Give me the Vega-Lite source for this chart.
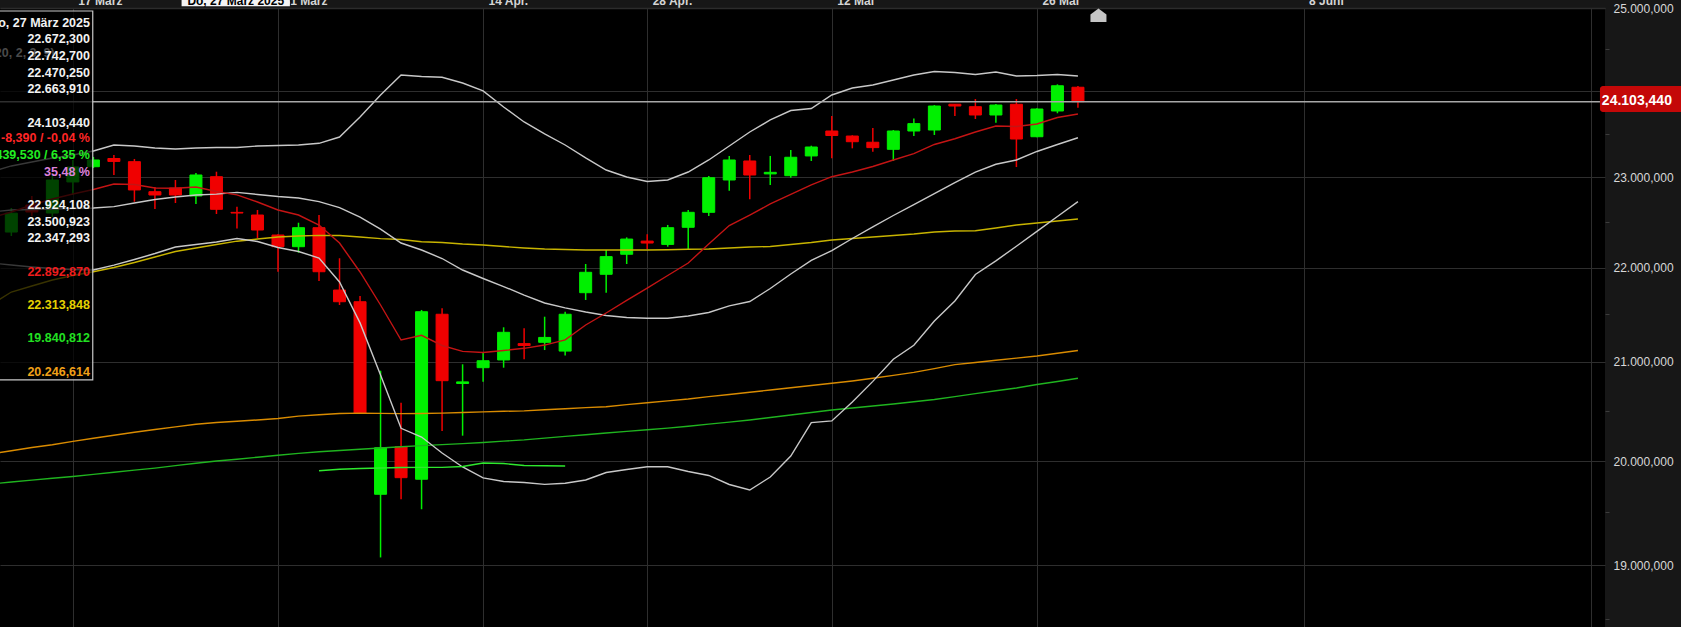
{
  "$schema": "https://vega.github.io/schema/vega-lite/v6.json",
  "width": 1605,
  "height": 619,
  "autosize": {"type": "none"},
  "padding": {"left": 0, "top": 8, "right": 76, "bottom": 0},
  "background": "#171717",
  "config": {
    "view": {"fill": "#000000", "stroke": null},
    "font": "Liberation Sans",
    "locale": {"number": {"decimal": ",", "thousands": ".", "grouping": [3], "currency": ["", " €"]}},
    "axisX": {
      "orient": "top",
      "grid": true, "gridColor": "#2e2e2e", "gridWidth": 1,
      "ticks": false, "domain": true, "domainColor": "#2c2c2c", "domainWidth": 1.5,
      "labelAlign": "left", "labelBaseline": "alphabetic", "labelPadding": 4, "labelOffset": 5,
      "labelColor": "#d4d4d4", "labelFontSize": 12, "labelFontWeight": "bold", "labelFont": "Liberation Sans",
      "labelFlush": false, "labelOverlap": false, "labelBound": false
    }
  },
  "datasets": {
    "d": [
      {"i":-4,"u":23184,"m":22677,"lw":22046,"r":22602,"ye":21540,"or":19836,"gr":19510},
      {"i":-3,"o":22427,"h":22727,"l":22378,"c":22662,"u":23262,"m":22702,"lw":22022,"r":22677,"ye":21695,"or":19872,"gr":19531},
      {"i":-2,"o":22765,"h":22879,"l":22627,"c":22677,"u":23313,"m":22708,"lw":21998,"r":22765,"ye":21767,"or":19907,"gr":19551},
      {"i":-1,"o":22664,"h":23146,"l":22614,"c":23082,"u":23365,"m":22715,"lw":21979,"r":22841,"ye":21840,"or":19937,"gr":19571},
      {"i":0,"o":23057,"h":23339,"l":22892,"c":23249,"u":23403,"m":22721,"lw":21967,"r":22904,"ye":21894,"or":19975,"gr":19591},
      {"i":1,"o":23252,"h":23378,"l":23236,"c":23339,"u":23455,"m":22727,"lw":21961,"r":22961,"ye":21940,"or":20009,"gr":19614},
      {"i":2,"o":23358,"h":23403,"l":23146,"c":23320,"u":23533,"m":22744,"lw":22020,"r":23031,"ye":21991,"or":20043,"gr":19637},
      {"i":3,"o":23317,"h":23352,"l":22806,"c":22955,"u":23520,"m":22790,"lw":22089,"r":23025,"ye":22052,"or":20076,"gr":19660},
      {"i":4,"o":22933,"h":22993,"l":22715,"c":22891,"u":23494,"m":22834,"lw":22162,"r":22980,"ye":22120,"or":20107,"gr":19682},
      {"i":5,"o":22980,"h":23082,"l":22790,"c":22891,"u":23481,"m":22866,"lw":22242,"r":22977,"ye":22187,"or":20136,"gr":19709},
      {"i":6,"o":22879,"h":23172,"l":22777,"c":23146,"u":23494,"m":22891,"lw":22273,"r":22993,"ye":22230,"or":20165,"gr":19735},
      {"i":7,"o":23124,"h":23188,"l":22652,"c":22711,"u":23500,"m":22902,"lw":22303,"r":22936,"ye":22273,"or":20185,"gr":19760},
      {"i":8,"o":22672.3,"h":22742.7,"l":22470.25,"c":22663.91,"u":23500.923,"m":22924.108,"lw":22347.293,"r":22892.87,"ye":22313.848,"or":20198,"gr":19779},
      {"i":9,"o":22639,"h":22702,"l":22353,"c":22452,"u":23520,"m":22898,"lw":22310,"r":22803,"ye":22340,"or":20213,"gr":19801},
      {"i":10,"o":22390,"h":22400,"l":21940,"c":22246,"u":23526,"m":22872,"lw":22236,"r":22702,"ye":22365,"or":20230,"gr":19822},
      {"i":11,"o":22246,"h":22543,"l":22172,"c":22481,"u":23533,"m":22853,"lw":22187,"r":22639,"ye":22377,"or":20256,"gr":19843},
      {"i":12,"o":22481,"h":22639,"l":21828,"c":21940,"u":23555,"m":22807,"lw":22107,"r":22514,"ye":22386,"or":20271,"gr":19861,"sg":19653},
      {"i":13,"o":21719,"h":22104,"l":21540,"c":21579,"u":23637,"m":22733,"lw":21816,"r":22291,"ye":22384,"or":20286,"gr":19875,"sg":19670},
      {"i":14,"o":21579,"h":21647,"l":20280,"c":20288,"u":23900,"m":22614,"lw":21328,"r":21937,"ye":22365,"or":20290,"gr":19888,"sg":19677},
      {"i":15,"o":19399,"h":20771,"l":18733,"c":19905,"u":24193,"m":22464,"lw":20722,"r":21540,"ye":22346,"or":20287,"gr":19902,"sg":19683},
      {"i":16,"o":19916,"h":20407,"l":19346,"c":19578,"u":24462,"m":22291,"lw":20120,"r":21127,"ye":22334,"or":20284,"gr":19915,"sg":19688},
      {"i":17,"o":19561,"h":21481,"l":19239,"c":21460,"u":24442,"m":22205,"lw":20023,"r":21182,"ye":22307,"or":20286,"gr":19928,"sg":19690},
      {"i":18,"o":21430,"h":21501,"l":20090,"c":20657,"u":24431,"m":22101,"lw":19847,"r":21063,"ye":22297,"or":20290,"gr":19939,"sg":19690},
      {"i":19,"o":20625,"h":20845,"l":20038,"c":20643,"u":24354,"m":21961,"lw":19694,"r":20995,"ye":22279,"or":20297,"gr":19950,"sg":19699},
      {"i":20,"o":20806,"h":20979,"l":20646,"c":20886,"u":24247,"m":21858,"lw":19575,"r":20981,"ye":22267,"or":20304,"gr":19963,"sg":19737},
      {"i":21,"o":20895,"h":21276,"l":20806,"c":21217,"u":24033,"m":21761,"lw":19537,"r":21004,"ye":22248,"or":20310,"gr":19978,"sg":19732},
      {"i":22,"o":21085,"h":21264,"l":20903,"c":21063,"u":23835,"m":21659,"lw":19526,"r":21030,"ye":22230,"or":20315,"gr":19991,"sg":19710},
      {"i":23,"o":21100,"h":21401,"l":21010,"c":21157,"u":23677,"m":21564,"lw":19506,"r":21068,"ye":22217,"or":20327,"gr":20011,"sg":19707},
      {"i":24,"o":20998,"h":21461,"l":20946,"c":21430,"u":23533,"m":21505,"lw":19517,"r":21129,"ye":22211,"or":20339,"gr":20030,"sg":19704},
      {"i":25,"o":21687,"h":22034,"l":21600,"c":21933,"u":23365,"m":21457,"lw":19553,"r":21303,"ye":22205,"or":20351,"gr":20048},
      {"i":26,"o":21909,"h":22205,"l":21687,"c":22124,"u":23210,"m":21415,"lw":19634,"r":21445,"ye":22205,"or":20362,"gr":20067},
      {"i":27,"o":22153,"h":22361,"l":22034,"c":22340,"u":23120,"m":21392,"lw":19667,"r":21594,"ye":22205,"or":20385,"gr":20086},
      {"i":28,"o":22315,"h":22399,"l":22217,"c":22291,"u":23063,"m":21382,"lw":19697,"r":21743,"ye":22205,"or":20406,"gr":20104},
      {"i":29,"o":22274,"h":22515,"l":22246,"c":22481,"u":23082,"m":21382,"lw":19697,"r":21894,"ye":22209,"or":20428,"gr":20122},
      {"i":30,"o":22486,"h":22702,"l":22205,"c":22673,"u":23184,"m":21410,"lw":19645,"r":22046,"ye":22214,"or":20448,"gr":20142},
      {"i":31,"o":22673,"h":23133,"l":22627,"c":23111,"u":23339,"m":21451,"lw":19602,"r":22279,"ye":22217,"or":20475,"gr":20166},
      {"i":32,"o":23082,"h":23391,"l":22946,"c":23339,"u":23520,"m":21529,"lw":19504,"r":22508,"ye":22230,"or":20500,"gr":20189},
      {"i":33,"o":23326,"h":23403,"l":22837,"c":23146,"u":23703,"m":21582,"lw":19445,"r":22639,"ye":22242,"or":20525,"gr":20212},
      {"i":34,"o":23160,"h":23391,"l":23018,"c":23180,"u":23861,"m":21737,"lw":19585,"r":22778,"ye":22248,"or":20551,"gr":20240},
      {"i":35,"o":23137,"h":23468,"l":23111,"c":23374,"u":23986,"m":21912,"lw":19814,"r":22898,"ye":22273,"or":20576,"gr":20268},
      {"i":36,"o":23391,"h":23524,"l":23326,"c":23507,"u":24013,"m":22077,"lw":20184,"r":23019,"ye":22297,"or":20602,"gr":20296},
      {"i":37,"o":23716,"h":23914,"l":23361,"c":23657,"u":24193,"m":22199,"lw":20202,"r":23124,"ye":22328,"or":20627,"gr":20324},
      {"i":38,"o":23650,"h":23660,"l":23490,"c":23576,"u":24287,"m":22347,"lw":20415,"r":23184,"ye":22347,"or":20654,"gr":20347},
      {"i":39,"o":23569,"h":23755,"l":23446,"c":23499,"u":24327,"m":22492,"lw":20649,"r":23255,"ye":22365,"or":20685,"gr":20370},
      {"i":40,"o":23477,"h":23729,"l":23326,"c":23716,"u":24394,"m":22633,"lw":20903,"r":23339,"ye":22384,"or":20717,"gr":20393},
      {"i":41,"o":23716,"h":23879,"l":23650,"c":23813,"u":24462,"m":22771,"lw":21065,"r":23422,"ye":22402,"or":20752,"gr":20417},
      {"i":42,"o":23729,"h":24059,"l":23664,"c":24046,"u":24509,"m":22908,"lw":21350,"r":23540,"ye":22427,"or":20795,"gr":20443},
      {"i":43,"o":24070,"h":24073,"l":23914,"c":24046,"u":24496,"m":23048,"lw":21588,"r":23615,"ye":22440,"or":20841,"gr":20475},
      {"i":44,"o":24037,"h":24139,"l":23874,"c":23927,"u":24469,"m":23184,"lw":21906,"r":23703,"ye":22443,"or":20866,"gr":20509},
      {"i":45,"o":23927,"h":24073,"l":23826,"c":24059,"u":24503,"m":23284,"lw":22073,"r":23782,"ye":22477,"or":20892,"gr":20542},
      {"i":46,"o":24069,"h":24139,"l":23248,"c":23611,"u":24448,"m":23339,"lw":22251,"r":23776,"ye":22514,"or":20916,"gr":20574},
      {"i":47,"o":23641,"h":24015,"l":23633,"c":24006,"u":24455,"m":23449,"lw":22435,"r":23808,"ye":22539,"or":20941,"gr":20613},
      {"i":48,"o":23980,"h":24336,"l":23950,"c":24317,"u":24469,"m":23540,"lw":22621,"r":23894,"ye":22564,"or":20973,"gr":20648},
      {"i":49,"o":24297,"h":24314,"l":24024,"c":24103.44,"u":24448,"m":23628,"lw":22807,"r":23940,"ye":22589,"or":21004,"gr":20684}
    ],
    "ptxt": [
      {"t":"Do, 27 März 2025","k":"w","i":0.833,"ty":25180},
      {"t":"22.672,300","k":"w","i":0.833,"ty":24950},
      {"t":"(20, 2, 3, 9)","k":"gry","i":-0.89,"ty":24766},
      {"t":"22.742,700","k":"w","i":0.833,"ty":24720.5},
      {"t":"22.470,250","k":"w","i":0.833,"ty":24493},
      {"t":"22.663,910","k":"w","i":0.833,"ty":24269},
      {"t":"24.103,440","k":"w","i":0.833,"ty":23825},
      {"t":"-8,390 / -0,04 %","k":"dn","i":0.833,"ty":23620},
      {"t":"1.439,530 / 6,35 %","k":"up","i":0.833,"ty":23403},
      {"t":"35,48 %","k":"pct","i":0.833,"ty":23188},
      {"t":"22.924,108","k":"w","i":0.833,"ty":22765},
      {"t":"23.500,923","k":"w","i":0.833,"ty":22556},
      {"t":"22.347,293","k":"w","i":0.833,"ty":22349.5},
      {"t":"22.892,870","k":"ma","i":0.833,"ty":21940},
      {"t":"22.313,848","k":"yel","i":0.833,"ty":21540},
      {"t":"19.840,812","k":"grn","i":0.833,"ty":21147},
      {"t":"20.246,614","k":"ora","i":0.833,"ty":20760}
    ]
  },
  "resolve": {"scale": {"y": "independent"}},
  "layer": [
    {
      "layer": [
        {
          "data": {"name": "d"},
          "transform": [{"filter": "isValid(datum.o)"}],
          "mark": {"type": "rule", "strokeWidth": 1.5},
          "encoding": {
            "x": {"field": "i", "type": "quantitative", "scale": {"domain": [-3.3091, 74.452], "nice": false, "zero": false},
              "axis": {"values": [0, 10, 20, 28, 37, 47, 60, 74], "labelExpr": "datum.value == 0 ? '17 März' : datum.value == 10 ? '31 März' : datum.value == 20 ? '14 Apr.' : datum.value == 28 ? '28 Apr.' : datum.value == 37 ? '12 Mai' : datum.value == 47 ? '26 Mai' : datum.value == 60 ? '8 Juni' : ''", "title": null}},
            "y": {"field": "l", "type": "quantitative", "scale": {"type": "log", "domain": [18025.9, 25385.6], "nice": false}, "axis": null},
            "y2": {"field": "h"},
            "color": {"condition": {"test": "datum.c >= datum.o", "value": "#00f000"}, "value": "#f00000"}
          }
        },
        {
          "data": {"name": "d"},
          "transform": [{"filter": "isValid(datum.o)"}],
          "mark": {"type": "bar", "width": 12, "strokeWidth": 1},
          "encoding": {
            "x": {"field": "i", "type": "quantitative", "scale": {"domain": [-3.3091, 74.452], "nice": false, "zero": false},
              "axis": {"values": [0, 10, 20, 28, 37, 47, 60, 74], "labelExpr": "datum.value == 0 ? '17 März' : datum.value == 10 ? '31 März' : datum.value == 20 ? '14 Apr.' : datum.value == 28 ? '28 Apr.' : datum.value == 37 ? '12 Mai' : datum.value == 47 ? '26 Mai' : datum.value == 60 ? '8 Juni' : ''", "title": null}},
            "y": {"field": "o", "type": "quantitative", "scale": {"type": "log", "domain": [18025.9, 25385.6], "nice": false}, "axis": null},
            "y2": {"field": "c"},
            "color": {"condition": {"test": "datum.c >= datum.o", "value": "#00f000"}, "value": "#f00000"},
            "stroke": {"condition": {"test": "datum.c >= datum.o", "value": "#00f000"}, "value": "#f00000"}
          }
        },
        {
          "data": {"name": "d"},
          "transform": [
            {"fold": ["gr", "or", "ye", "sg", "lw", "m", "u", "r"], "as": ["s", "v"]},
            {"filter": "isValid(datum.v)"}
          ],
          "mark": {"type": "line", "interpolate": "linear"},
          "encoding": {
            "x": {"field": "i", "type": "quantitative", "scale": {"domain": [-3.3091, 74.452], "nice": false, "zero": false},
              "axis": {"values": [0, 10, 20, 28, 37, 47, 60, 74], "labelExpr": "datum.value == 0 ? '17 März' : datum.value == 10 ? '31 März' : datum.value == 20 ? '14 Apr.' : datum.value == 28 ? '28 Apr.' : datum.value == 37 ? '12 Mai' : datum.value == 47 ? '26 Mai' : datum.value == 60 ? '8 Juni' : ''", "title": null}},
            "y": {"field": "v", "type": "quantitative", "scale": {"type": "log", "domain": [18025.9, 25385.6], "nice": false}, "axis": null},
            "stroke": {"field": "s", "type": "nominal",
              "scale": {"domain": ["gr", "or", "ye", "sg", "lw", "m", "u", "r"], "range": ["#1fb41f", "#d98b00", "#c8b400", "#2ee82e", "#c8c8c8", "#c8c8c8", "#c8c8c8", "#c41414"]},
              "legend": null},
            "strokeWidth": {"field": "s", "type": "nominal",
              "scale": {"domain": ["gr", "or", "ye", "sg", "lw", "m", "u", "r"], "range": [1.4, 1.4, 1.4, 2.2, 1.6, 1.6, 1.6, 1.4]},
              "legend": null},
            "order": {"field": "i"}
          }
        },
        {
          "data": {"values": [{"p": 24103.44}]},
          "mark": {"type": "rule", "color": "#a8a8a8", "strokeWidth": 1.5},
          "encoding": {
            "y": {"field": "p", "type": "quantitative", "scale": {"type": "log", "domain": [18025.9, 25385.6], "nice": false}, "axis": null}
          }
        },
        {
          "data": {"values": [{"i": -3.8, "i2": 0.969, "ya": 25343.5, "yb": 20665}]},
          "mark": {"type": "rect", "fill": "#000000", "fillOpacity": 0.72, "stroke": "#c8c8c8", "strokeWidth": 1.2},
          "encoding": {
            "x": {"field": "i", "type": "quantitative", "scale": {"domain": [-3.3091, 74.452], "nice": false, "zero": false},
              "axis": {"values": [0, 10, 20, 28, 37, 47, 60, 74], "labelExpr": "datum.value == 0 ? '17 März' : datum.value == 10 ? '31 März' : datum.value == 20 ? '14 Apr.' : datum.value == 28 ? '28 Apr.' : datum.value == 37 ? '12 Mai' : datum.value == 47 ? '26 Mai' : datum.value == 60 ? '8 Juni' : ''", "title": null}},
            "x2": {"field": "i2"},
            "y": {"field": "ya", "type": "quantitative", "scale": {"type": "log", "domain": [18025.9, 25385.6], "nice": false}, "axis": null},
            "y2": {"field": "yb"}
          }
        },
        {
          "data": {"name": "ptxt"},
          "mark": {"type": "text", "align": "right", "baseline": "middle", "fontWeight": "bold", "fontSize": 12.5, "font": "Liberation Sans"},
          "encoding": {
            "x": {"field": "i", "type": "quantitative", "scale": {"domain": [-3.3091, 74.452], "nice": false, "zero": false},
              "axis": {"values": [0, 10, 20, 28, 37, 47, 60, 74], "labelExpr": "datum.value == 0 ? '17 März' : datum.value == 10 ? '31 März' : datum.value == 20 ? '14 Apr.' : datum.value == 28 ? '28 Apr.' : datum.value == 37 ? '12 Mai' : datum.value == 47 ? '26 Mai' : datum.value == 60 ? '8 Juni' : ''", "title": null}},
            "y": {"field": "ty", "type": "quantitative", "scale": {"type": "log", "domain": [18025.9, 25385.6], "nice": false}, "axis": null},
            "text": {"field": "t"},
            "fill": {"field": "k", "type": "nominal",
              "scale": {"domain": ["w", "dn", "up", "pct", "ma", "yel", "grn", "ora", "gry"], "range": ["#f2f2f2", "#ff2626", "#22ee22", "#dc82dc", "#ee1c1c", "#e6d200", "#22e022", "#f0a018", "#4a4a4a"]},
              "legend": null}
          }
        },
        {
          "data": {"values": [{"i": 5.30, "i2": 10.58, "ya": 25565, "yb": 25409.4}]},
          "mark": {"type": "rect", "fill": "#f4f4f4"},
          "encoding": {
            "x": {"field": "i", "type": "quantitative", "scale": {"domain": [-3.3091, 74.452], "nice": false, "zero": false},
              "axis": {"values": [0, 10, 20, 28, 37, 47, 60, 74], "labelExpr": "datum.value == 0 ? '17 März' : datum.value == 10 ? '31 März' : datum.value == 20 ? '14 Apr.' : datum.value == 28 ? '28 Apr.' : datum.value == 37 ? '12 Mai' : datum.value == 47 ? '26 Mai' : datum.value == 60 ? '8 Juni' : ''", "title": null}},
            "x2": {"field": "i2"},
            "y": {"field": "ya", "type": "quantitative", "scale": {"type": "log", "domain": [18025.9, 25385.6], "nice": false}, "axis": null},
            "y2": {"field": "yb"}
          }
        },
        {
          "data": {"values": [{"t": "Do, 27 März 2025", "i": 7.94, "ya": 25434.7}]},
          "mark": {"type": "text", "align": "center", "baseline": "alphabetic", "fontWeight": "bold", "fontSize": 12, "fill": "#000000", "font": "Liberation Sans"},
          "encoding": {
            "x": {"field": "i", "type": "quantitative", "scale": {"domain": [-3.3091, 74.452], "nice": false, "zero": false},
              "axis": {"values": [0, 10, 20, 28, 37, 47, 60, 74], "labelExpr": "datum.value == 0 ? '17 März' : datum.value == 10 ? '31 März' : datum.value == 20 ? '14 Apr.' : datum.value == 28 ? '28 Apr.' : datum.value == 37 ? '12 Mai' : datum.value == 47 ? '26 Mai' : datum.value == 60 ? '8 Juni' : ''", "title": null}},
            "y": {"field": "ya", "type": "quantitative", "scale": {"type": "log", "domain": [18025.9, 25385.6], "nice": false}, "axis": null},
            "text": {"field": "t"}
          }
        },
        {
          "data": {"values": [{"i": 50, "ya": 25266.6}]},
          "mark": {"type": "point", "shape": "M -1 0.7 L -1 -0.25 L 0 -1 L 1 -0.25 L 1 0.7 Z", "filled": true, "color": "#c4c4c4", "size": 256, "opacity": 1},
          "encoding": {
            "x": {"field": "i", "type": "quantitative", "scale": {"domain": [-3.3091, 74.452], "nice": false, "zero": false},
              "axis": {"values": [0, 10, 20, 28, 37, 47, 60, 74], "labelExpr": "datum.value == 0 ? '17 März' : datum.value == 10 ? '31 März' : datum.value == 20 ? '14 Apr.' : datum.value == 28 ? '28 Apr.' : datum.value == 37 ? '12 Mai' : datum.value == 47 ? '26 Mai' : datum.value == 60 ? '8 Juni' : ''", "title": null}},
            "y": {"field": "ya", "type": "quantitative", "scale": {"type": "log", "domain": [18025.9, 25385.6], "nice": false}, "axis": null}
          }
        },
        {
          "data": {"values": [{"i": 74.45, "i2": 78.6, "ya": 24313.6, "yb": 23966.5}]},
          "mark": {"type": "rect", "fill": "#c40808", "cornerRadius": 3},
          "encoding": {
            "x": {"field": "i", "type": "quantitative", "scale": {"domain": [-3.3091, 74.452], "nice": false, "zero": false},
              "axis": {"values": [0, 10, 20, 28, 37, 47, 60, 74], "labelExpr": "datum.value == 0 ? '17 März' : datum.value == 10 ? '31 März' : datum.value == 20 ? '14 Apr.' : datum.value == 28 ? '28 Apr.' : datum.value == 37 ? '12 Mai' : datum.value == 47 ? '26 Mai' : datum.value == 60 ? '8 Juni' : ''", "title": null}},
            "x2": {"field": "i2"},
            "y": {"field": "ya", "type": "quantitative", "scale": {"type": "log", "domain": [18025.9, 25385.6], "nice": false}, "axis": null},
            "y2": {"field": "yb"}
          }
        },
        {
          "data": {"values": [{"t": "24.103,440", "i": 76.25, "ya": 24119}]},
          "mark": {"type": "text", "align": "center", "baseline": "middle", "fontWeight": "bold", "fontSize": 14, "fill": "#ffffff", "font": "Liberation Sans"},
          "encoding": {
            "x": {"field": "i", "type": "quantitative", "scale": {"domain": [-3.3091, 74.452], "nice": false, "zero": false},
              "axis": {"values": [0, 10, 20, 28, 37, 47, 60, 74], "labelExpr": "datum.value == 0 ? '17 März' : datum.value == 10 ? '31 März' : datum.value == 20 ? '14 Apr.' : datum.value == 28 ? '28 Apr.' : datum.value == 37 ? '12 Mai' : datum.value == 47 ? '26 Mai' : datum.value == 60 ? '8 Juni' : ''", "title": null}},
            "y": {"field": "ya", "type": "quantitative", "scale": {"type": "log", "domain": [18025.9, 25385.6], "nice": false}, "axis": null},
            "text": {"field": "t"}
          }
        }
      ]
    },
    {
      "data": {"values": [{"v": 18500}, {"v": 19000}, {"v": 19500}, {"v": 20000}, {"v": 20500}, {"v": 21000}, {"v": 21500}, {"v": 22000}, {"v": 22500}, {"v": 23000}, {"v": 23500}, {"v": 24000}, {"v": 24500}, {"v": 25000}]},
      "mark": {"type": "rule", "opacity": 0, "strokeOpacity": 0},
      "encoding": {
        "y": {"field": "v", "type": "quantitative", "scale": {"type": "log", "domain": [18430, 25000], "nice": false},
          "axis": {
            "orient": "right",
            "values": [18500, 19000, 19500, 20000, 20500, 21000, 21500, 22000, 22500, 23000, 23500, 24000, 24500, 25000],
            "format": ",.3f",
            "labelExpr": "datum.value % 1000 === 0 ? datum.label : ''",
            "grid": true,
            "gridColor": {"condition": {"test": "datum.value % 1000 !== 0", "value": "transparent"}, "value": "#2e2e2e"},
            "gridWidth": 1,
            "domain": false,
            "ticks": true,
            "tickSize": 4,
            "tickColor": {"condition": {"test": "datum.value % 1000 !== 0", "value": "#3c3c3c"}, "value": "transparent"},
            "labelPadding": 4,
            "labelColor": "#d8d8d8",
            "labelFont": "Liberation Sans",
            "labelFontSize": 12,
            "labelAlign": "left",
            "labelBaseline": "middle",
            "labelOverlap": false,
            "labelBound": false,
            "labelFlush": false,
            "title": null
          }}
      }
    }
  ]
}
